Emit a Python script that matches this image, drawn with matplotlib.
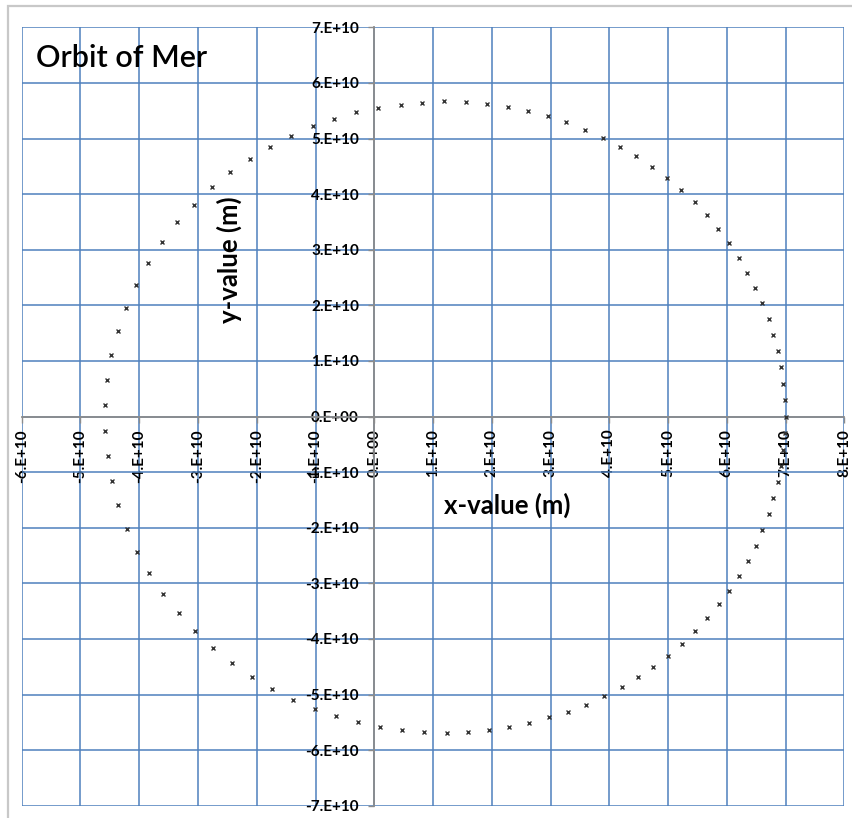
import matplotlib
matplotlib.use("Agg")
import matplotlib.pyplot as plt
from matplotlib.patches import Rectangle
from matplotlib.ticker import MultipleLocator, FuncFormatter

plt.rcParams['font.family'] = ['Lato', 'DejaVu Sans']
plt.rcParams['axes.unicode_minus'] = False

# Orbit positions (units of 1E10 m)
x_vals = [7.00, 6.99, 6.96, 6.93, 6.87, 6.79, 6.71, 6.60, 6.48, 6.35,
          6.20, 6.04, 5.85, 5.66, 5.45, 5.22, 4.98, 4.73, 4.46, 4.18,
          3.89, 3.59, 3.27, 2.95, 2.61, 2.27, 1.92, 1.56, 1.19, 0.82,
          0.45, 0.07, -0.31, -0.68, -1.05, -1.41, -1.77, -2.11, -2.46, -2.77,
          -3.07, -3.35, -3.61, -3.85, -4.05, -4.23, -4.37, -4.48, -4.55, -4.58,
          -4.58, -4.54, -4.47, -4.36, -4.21, -4.03, -3.83, -3.59, -3.33, -3.05,
          -2.75, -2.42, -2.08, -1.74, -1.38, -1.01, -0.65, -0.27, 0.10, 0.48,
          0.85, 1.23, 1.59, 1.96, 2.30, 2.64, 2.97, 3.30, 3.61, 3.91,
          4.21, 4.48, 4.75, 5.00, 5.24, 5.46, 5.66, 5.87, 6.04, 6.21,
          6.36, 6.50, 6.60, 6.71, 6.79, 6.87, 6.93, 6.96, 6.99]
y_vals = [0.00, 0.30, 0.59, 0.89, 1.18, 1.47, 1.75, 2.04, 2.32, 2.59,
          2.86, 3.12, 3.37, 3.62, 3.85, 4.07, 4.29, 4.49, 4.68, 4.85,
          5.01, 5.16, 5.29, 5.41, 5.50, 5.57, 5.62, 5.65, 5.67, 5.64,
          5.61, 5.55, 5.47, 5.36, 5.23, 5.05, 4.85, 4.64, 4.39, 4.12,
          3.81, 3.49, 3.14, 2.77, 2.37, 1.96, 1.54, 1.10, 0.65, 0.20,
          -0.26, -0.71, -1.16, -1.59, -2.02, -2.43, -2.82, -3.19, -3.54, -3.86,
          -4.16, -4.43, -4.68, -4.90, -5.09, -5.26, -5.39, -5.50, -5.59, -5.64,
          -5.68, -5.69, -5.67, -5.64, -5.59, -5.51, -5.41, -5.31, -5.18, -5.03,
          -4.87, -4.69, -4.51, -4.31, -4.09, -3.86, -3.63, -3.38, -3.13, -2.86,
          -2.60, -2.32, -2.04, -1.76, -1.47, -1.18, -0.89, -0.60, -0.30]

x_m = [v * 1e10 for v in x_vals]
y_m = [v * 1e10 for v in y_vals]

fig = plt.figure(figsize=(8.52, 8.18), dpi=100)
ax = fig.add_axes([0.0255, 0.015, 0.9655, 0.9516])

# chart area border like the spreadsheet frame
fig.patches.append(Rectangle((0.0097, -0.02), 1.1, 1.013, transform=fig.transFigure,
                             fill=False, ec='#C8C8C8', lw=1.6))

ax.plot(x_m, y_m, linestyle='none', marker='x', markersize=3.4,
        markeredgewidth=1.0, color='#333333', zorder=3)

ax.set_xlim(-6e10, 8e10)
ax.set_ylim(-7e10, 7e10)
ax.xaxis.set_major_locator(MultipleLocator(1e10))
ax.yaxis.set_major_locator(MultipleLocator(1e10))
fmt = FuncFormatter(lambda v, pos: '{:#.0E}'.format(round(v / 1e10) * 1e10))
ax.xaxis.set_major_formatter(fmt)
ax.yaxis.set_major_formatter(fmt)

ax.grid(True, color='#4F81BD', lw=1.3, alpha=0.85)

for s in ['top', 'right']:
    ax.spines[s].set_visible(False)
ax.spines['left'].set_position('zero')
ax.spines['bottom'].set_position('zero')
for s in ['left', 'bottom']:
    ax.spines[s].set_color('#8c8c8c')
    ax.spines[s].set_linewidth(1.3)
    ax.spines[s].set_zorder(2.6)

ax.tick_params(axis='both', colors='#8c8c8c', length=4, width=1,
               labelcolor='black', labelsize=11)
ax.tick_params(axis='y', direction='out', pad=7)
ax.tick_params(axis='x', direction='out', pad=5, labelrotation=90)
for lbl in ax.get_xticklabels() + ax.get_yticklabels():
    lbl.set_fontweight('bold')

ax.text(0.252, 0.701, 'y-value (m)', transform=ax.transAxes, rotation=90,
        ha='center', va='center', fontsize=18.5, fontweight='bold')
ax.text(0.590, 0.386, 'x-value (m)', transform=ax.transAxes,
        ha='center', va='center', fontsize=18.5, fontweight='bold')
fig.text(0.042, 0.929, 'Orbit of Mer', ha='left', va='center', fontsize=22,
         fontweight='semibold')

fig.savefig('out.png', dpi=100)
